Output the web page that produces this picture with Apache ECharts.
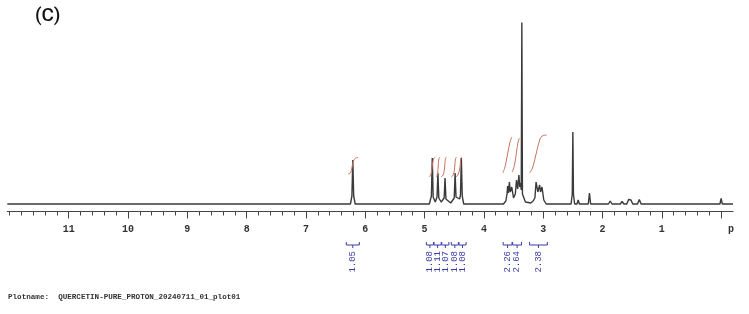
<!DOCTYPE html>
<html><head><meta charset="utf-8">
<script src="https://cdn.jsdelivr.net/npm/echarts@6/dist/echarts.min.js"></script>
<style>html,body{margin:0;padding:0;background:#fff}#c{width:749px;height:314px}</style>
</head><body><div id="c"></div>
<script>
// ---- data ----
const titleText = '(C)';
const plotName = 'Plotname:  QUERCETIN-PURE_PROTON_20240711_01_plot01';
const tickLabels = [1,2,3,4,5,6,7,8,9,10,11];
const majorTicks = [0,1,2,3,4,5,6,7,8,9,10,11];
// spectrum trace: [ppm, intensity]
const spectrum = [
 [12.035,0],
 [6.25,0],[6.225,8],[6.21,44],[6.195,8],[6.17,0],
 [4.92,0],[4.885,8],[4.87,46],[4.855,7],[4.82,2],[4.79,7],[4.775,31],[4.76,6],[4.72,2],[4.67,6],[4.655,26],[4.64,5],[4.56,1],[4.50,6],[4.485,31],[4.47,7],[4.41,5],[4.395,9],[4.38,46],[4.365,8],[4.34,0],
 [3.67,0],[3.63,3],[3.61,10],[3.60,18],[3.585,11],[3.57,22],[3.555,12],[3.53,17],[3.50,6],[3.47,10],[3.45,24],[3.43,15],[3.41,29],[3.395,17],[3.38,21],[3.37,14],[3.36,181.5],[3.35,10],[3.30,2],[3.21,1],[3.17,3],[3.14,6],[3.12,22],[3.09,12],[3.06,19],[3.045,12],[3.02,17],[2.99,4],[2.95,0],
 [2.53,0],[2.51,10],[2.50,72],[2.49,10],[2.47,0],
 [2.43,0],[2.41,4],[2.39,0],
 [2.24,0],[2.22,11],[2.20,0],
 [1.90,0],[1.87,3],[1.84,0],
 [1.70,0],[1.67,2.5],[1.64,0],
 [1.59,0],[1.56,4.5],[1.54,3],[1.52,4],[1.49,0],
 [1.41,0],[1.38,4.5],[1.35,0],
 [0.02,0],[0.0,5.5],[-0.02,0],
 [-0.2,0]
];
// integral curves: [ppm, level]
const integrals = [
 [[6.29,30],[6.25,31],[6.225,36],[6.20,43],[6.16,46],[6.12,46.5]],
 [[4.92,27],[4.89,30],[4.87,38],[4.85,45],[4.82,47]],
 [[4.80,27],[4.78,31],[4.77,38],[4.76,45],[4.74,47]],
 [[4.72,27],[4.68,30],[4.66,38],[4.65,45],[4.63,47]],
 [[4.55,27],[4.51,30],[4.49,38],[4.48,45],[4.46,47]],
 [[4.47,27],[4.43,30],[4.40,38],[4.39,45],[4.37,47]],
 [[3.68,31],[3.64,38],[3.60,50],[3.56,62],[3.53,67]],
 [[3.52,32],[3.48,40],[3.45,52],[3.42,63],[3.40,66]],
 [[3.23,31],[3.18,36],[3.12,50],[3.06,64],[3.02,68],[2.94,69]]
];
const intCenters = [6.21, 4.91, 4.78, 4.65, 4.49, 4.36, 3.60, 3.44, 3.08];
const intHalfWidths = [0.11, 0.06, 0.06, 0.06, 0.06, 0.06, 0.075, 0.075, 0.15];
const intValues = ['1.05','1.08','1.11','1.07','1.08','1.08','2.26','2.64','2.38'];

const ppmMin = -0.2, ppmMax = 12.035;
const minorTicks = [];
for (let i = 0; i <= 60; i++) minorTicks.push(+(i*0.2).toFixed(1));

const chart = echarts.init(document.getElementById('c'), null, {renderer:'canvas'});
const intSeries = integrals.map(d => ({
  type:'line', data:d, xAxisIndex:0, yAxisIndex:0, showSymbol:false, smooth:0.35,
  lineStyle:{color:'#c9735f', width:1}, silent:true, z:3
}));
const labelData = intCenters.map((c,i)=>[c, intHalfWidths[i], intValues[i]]);
chart.setOption({
  animation:false,
  grid:{left:7.3, right:16, top:22, bottom:102.5, containLabel:false},
  xAxis:[{
    type:'value', min:ppmMin, max:ppmMax, inverse:true, position:'bottom',
    axisLine:{show:true, onZero:false, lineStyle:{color:'#444', width:1}},
    axisTick:{show:true, customValues:majorTicks, length:7, lineStyle:{color:'#444', width:1}},
    axisLabel:{show:true, customValues:tickLabels, margin:13, color:'#333',
      fontFamily:'Liberation Mono', fontWeight:'bold', fontSize:10},
    splitLine:{show:false}
  },{
    type:'value', min:ppmMin, max:ppmMax, inverse:true, position:'bottom', gridIndex:0,
    axisLine:{show:false, onZero:false},
    axisTick:{show:true, customValues:minorTicks, length:4, lineStyle:{color:'#444', width:1}},
    axisLabel:{show:false}, splitLine:{show:false}
  }],
  yAxis:{type:'value', min:-7.5, max:182, show:false},
  series:[
    {type:'line', data:spectrum, showSymbol:false, lineStyle:{color:'#3a3a3a', width:1.4}, silent:true, z:2},
    ...intSeries,
    {type:'custom', data:labelData, clip:false, silent:true,
     renderItem:function(params, api){
       const c = api.coord([api.value(0), 0]);
       const l = api.coord([api.value(0)+api.value(1), 0]);
       const r = api.coord([api.value(0)-api.value(1), 0]);
       const yb = c[1] + 41;
       const st = {stroke:'#3b3ba8', lineWidth:1};
       return {type:'group', children:[
         {type:'line', shape:{x1:l[0], y1:yb, x2:r[0], y2:yb}, style:st},
         {type:'line', shape:{x1:l[0], y1:yb, x2:l[0], y2:yb-3}, style:st},
         {type:'line', shape:{x1:r[0], y1:yb, x2:r[0], y2:yb-3}, style:st},
         {type:'line', shape:{x1:c[0], y1:yb, x2:c[0], y2:yb+3}, style:st},
         {type:'text', x:c[0], y:yb+6, rotation:Math.PI/2,
          style:{text:labelData[params.dataIndex][2], fill:'#3b3ba8', font:'9px "Liberation Mono"', align:'right', verticalAlign:'middle'}}
       ]};
     }}
  ],
  graphic:[
    {type:'text', left:35, top:7, style:{text:titleText, font:'500 19px Roboto', fill:'#111'}},
    {type:'text', left:8, top:293, style:{text:plotName, font:'bold 7.6px "Liberation Mono"', fill:'#333'}},
    {type:'text', left:728, top:224, style:{text:'p', font:'bold 10px "Liberation Mono"', fill:'#333'}}
  ]
});
</script></body></html>
